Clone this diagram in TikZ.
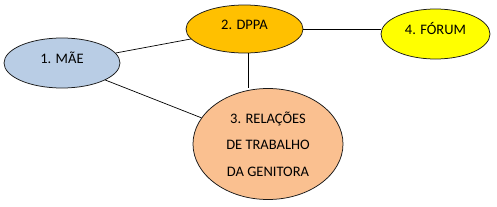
\documentclass[tikz,border=0pt]{standalone}
\usepackage{fontspec}
\setmainfont{Carlito}
\usetikzlibrary{shapes.geometric}
\definecolor{mBlue}{HTML}{B9CDE5}
\definecolor{mGold}{HTML}{FFC000}
\definecolor{mYellow}{HTML}{FFFF00}
\definecolor{mPeach}{HTML}{FAC090}
\definecolor{mInk}{HTML}{1A1A1A}
\tikzset{
  bubble/.style ={ellipse,draw=mInk,line width=0.75pt,inner sep=0pt,
                  font=\fontsize{14.5}{26.5}\selectfont,align=center},
  link/.style   ={draw=black,line width=0.7pt},
}
\newcommand{\upline}[1]{\smash{#1}}

\begin{document}
\begin{tikzpicture}[x=1pt,y=-1pt]
\useasboundingbox (0,0) rectangle (497,206);
\node[bubble,fill=mBlue,minimum width=116pt,minimum height=50pt] (mae) at (62,63) {\upline{1. MÃE}};
\node[bubble,fill=mGold,minimum width=117pt,minimum height=48pt] (dppa) at (244.5,29) {\upline{2. DPPA}};
\node[bubble,fill=mYellow,minimum width=109pt,minimum height=50pt] (forum) at (435.5,34) {\upline{4. FÓRUM}};
\node[bubble,fill=mPeach,minimum width=150pt,minimum height=111pt] (rel) at (268,144)
  {3. RELAÇÕES\\DE TRABALHO\\DA GENITORA};
\draw[link] (mae) -- (dppa);
\draw[link] (mae) -- (rel);
\draw[link] (dppa.east) -- (dppa.east -| forum.west);
\draw[link] (dppa.south) ++(3.5,0) coordinate (dtop) -- (dtop |- rel.north);
\end{tikzpicture}
\end{document}
